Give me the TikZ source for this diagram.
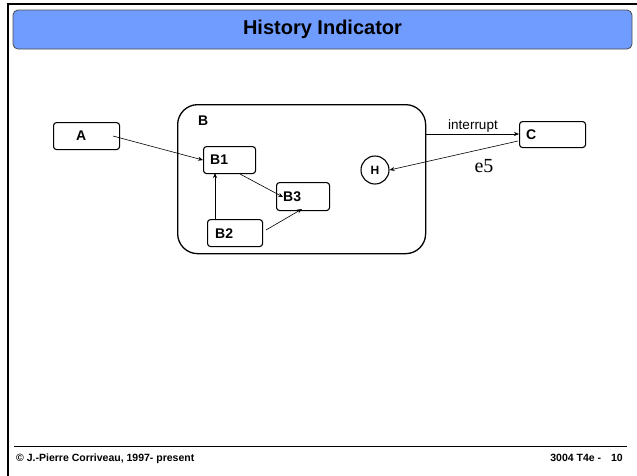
\documentclass[tikz,border=0pt]{standalone}
\usepackage{fontspec}
\setmainfont{Liberation Sans}
\newfontfamily\serifface{Liberation Serif}
\usetikzlibrary{arrows.meta}
\definecolor{titleblue}{HTML}{709CFF}
\tikzset{
  statebox/.style={draw, line width=1.1pt, rounded corners=3pt, inner sep=0pt,
    anchor=north west},
  trans/.style={-{Stealth[length=5pt,width=4pt]}, line width=0.6pt},
  lbl/.style={font=\bfseries\fontsize{14}{14}\selectfont, inner sep=0pt},
  foot/.style={inner sep=0pt, font=\bfseries\fontsize{10.5}{11}\selectfont},
}
\begin{document}
\begin{tikzpicture}[x=1pt,y=-1pt]
  \useasboundingbox (0,0) rectangle (637,475);
  % slide frame
  \draw[line width=1.5pt] (8,476) -- (8,4) -- (638,4);
  % title bar
  \node[draw=black!70, line width=0.8pt, fill=titleblue, rounded corners=5pt,
        minimum width=619pt, minimum height=39pt, inner sep=0pt] (title) at (322.5,29.5)
        {\bfseries\fontsize{20}{20}\selectfont History Indicator};
  % footer
  \draw[line width=0.8pt] (14,446) -- (627,446);
  \node[foot, anchor=base west] (copy) at (16,461)
        {\textcopyright{} J.-Pierre Corriveau, 1997- present};
  \node[foot, anchor=base east] (page) at (623,461)
        {3004 T4e -\hspace{10pt}10};

  % states
  \node[statebox, minimum width=66pt, minimum height=27pt] (A) at (53,122) {};
  \node[lbl, anchor=west] at (76,136) {A};
  \node[draw, line width=1.3pt, rounded corners=20pt, minimum width=248pt,
        minimum height=149pt, anchor=north west, inner sep=0pt] (B) at (177,104) {};
  \node[lbl, anchor=west] (Blbl) at (198,121) {B};
  \node[statebox, minimum width=52pt, minimum height=27pt] (B1) at (203,146) {};
  \node[lbl, anchor=west] at (210,160) {B1};
  \node[statebox, minimum width=53pt, minimum height=28pt] (B3) at (276,182) {};
  \node[lbl, anchor=west] at (283,197) {B3};
  \node[statebox, minimum width=55pt, minimum height=27pt] (B2) at (207,219) {};
  \node[lbl, anchor=west] at (215,234) {B2};
  \node[draw, circle, line width=1.1pt, minimum size=28pt, inner sep=0pt,
        font=\bfseries\fontsize{12}{12}\selectfont] (H) at (375,170) {H};
  \node[statebox, minimum width=66pt, minimum height=26pt] (C) at (519,121) {};
  \node[lbl, anchor=west] at (526,135) {C};

  % transitions
  \coordinate (aout) at (113,136);
  \draw[trans] (aout) -- (B1.west);
  \coordinate (b1out) at (240,174);
  \coordinate (b3in) at (283,197);
  \draw[trans] (b1out) -- (b3in);
  \coordinate (b2top) at (215,219);
  \coordinate (b1bot) at (215,173);
  \draw[trans] (b2top) -- (b1bot);
  \coordinate (b2out) at (266,230);
  \coordinate (b3bot) at (302,209);
  \draw[trans] (b2out) -- (b3bot);
  \coordinate (bout) at (425,134);
  \draw[trans, line width=0.5pt] (bout) -- (C.west |- bout);
  \node[font=\fontsize{13.5}{13.5}\selectfont, inner sep=0pt] (intlbl) at (473,126) {interrupt};
  \coordinate (cout) at (518,141);
  \draw[trans] (cout) -- (H.east);
  \node[font=\serifface\fontsize{20}{20}\selectfont, inner sep=0pt] (e5lbl) at (484,166) {e5};
\end{tikzpicture}
\end{document}
